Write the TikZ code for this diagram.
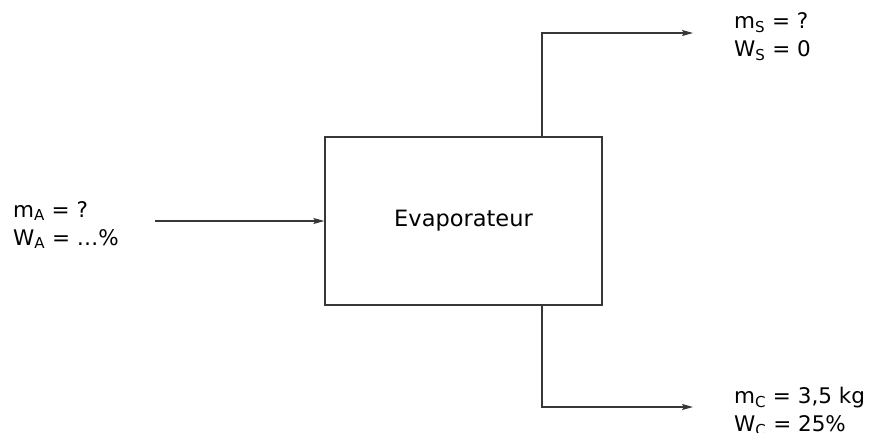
\documentclass[tikz,border=0pt]{standalone}
\usepackage{fontspec}
\setmainfont{DejaVu Sans}
\usetikzlibrary{arrows.meta, positioning}
\definecolor{linecolor}{RGB}{55, 55, 55}
\newcommand{\idx}[1]{\textsubscript{#1}}
\tikzstyle{unitbox} = [
    rectangle,
    draw=linecolor,
    line width=1.3pt,
    minimum width=277pt,
    minimum height=168pt,
    inner sep=0pt
]
\tikzstyle{arrow} = [
    -{Stealth[length=11pt, width=6pt, inset=2pt]},
    line width=1.3pt,
    color=linecolor
]
\tikzstyle{streamlabel} = [
    align=left,
    inner sep=0pt,
    yshift=-4pt,
    font=\fontsize{21.5}{28}\selectfont
]

\begin{document}
\begin{tikzpicture}[x=1pt, y=-1pt]
\useasboundingbox (0,0) rectangle (870,432);

% Evaporator
\node[unitbox, font=\fontsize{22.5}{26}\selectfont] (evap) at (463.5, 221) {Evaporateur};

% Stream end points
\coordinate (feed) at (155, 221);
\coordinate (vapour) at (693, 33);
\coordinate (concentrate) at (693, 407);

% Feed
\draw[arrow] (feed) -- (evap.west);
\node[streamlabel, left=36pt of feed] (feedlabel) {m\idx{A} = ?\\W\idx{A} = \ldots\%};

% Vapour out
\draw[arrow] ([xshift=78.5pt]evap.north) |- (vapour);
\node[streamlabel, right=41pt of vapour] (vapourlabel) {m\idx{S} = ?\\W\idx{S} = 0};

% Concentrate out
\draw[arrow] ([xshift=78.5pt]evap.south) |- (concentrate);
\node[streamlabel, right=41pt of concentrate] (concentratelabel) {m\idx{C} = 3,5 kg\\W\idx{C} = 25\%};

\end{tikzpicture}
\end{document}
